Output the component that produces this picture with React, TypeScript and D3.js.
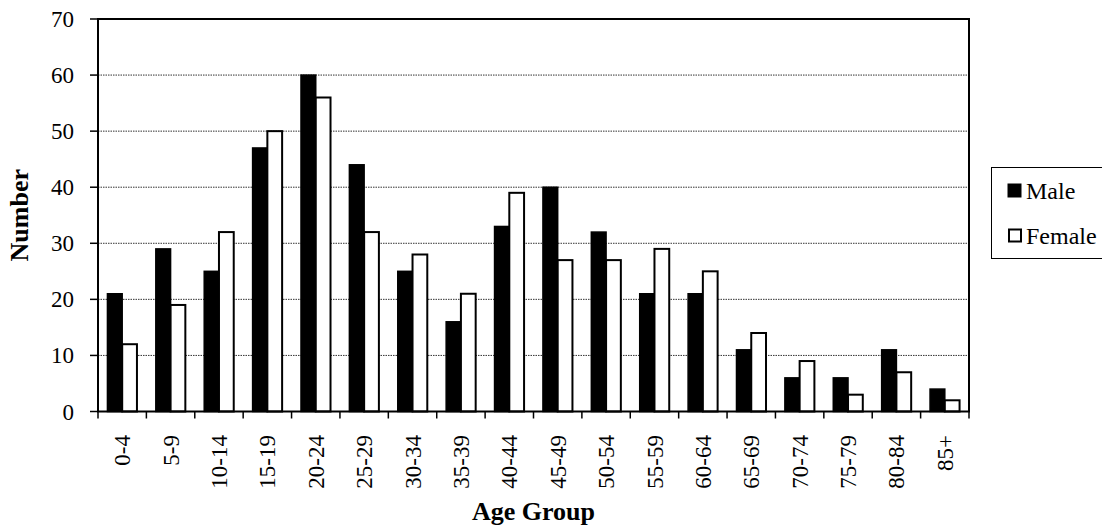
import React from "react";
import * as d3 from "d3";

const categories = ["0-4","5-9","10-14","15-19","20-24","25-29","30-34","35-39","40-44","45-49","50-54","55-59","60-64","65-69","70-74","75-79","80-84","85+"];
const maleValues = [21,29,25,47,60,44,25,16,33,40,32,21,21,11,6,6,11,4];
const femaleValues = [12,19,32,50,56,32,28,21,39,27,27,29,25,14,9,3,7,2];
const seriesNames = ["Male","Female"];
const yTicks = [0,10,20,30,40,50,60,70];

const W = 1102, H = 527;
const left = 98, right = 969, top = 19, bottom = 411.5;
const FONT = "Liberation Serif";
const ts = { fontFamily: FONT };

export default function App() {
  const x0 = d3.scaleBand<string>().domain(categories).range([left, right]).paddingInner(0.39).paddingOuter(0.195);
  const x1 = d3.scaleBand<string>().domain(seriesNames).range([0, x0.bandwidth()]);
  const y = d3.scaleLinear().domain([0, 70]).range([bottom, top]);
  const step = x0.step();
  const groupStarts = categories.map((_, i) => left + i * step);

  return (
    <svg width={W} height={H} style={{ position: "absolute", left: 0, top: 0, background: "#fff" }}>
      <rect x={0} y={0} width={W} height={H} fill="#fff" />
      {yTicks.filter(t => t > 0 && t < 70).map(t => (
        <line key={"g" + t} x1={left} x2={right} y1={y(t)} y2={y(t)} stroke="#333" strokeWidth={1} strokeDasharray="1.5 1" />
      ))}
      {categories.map((c, i) => (
        <g key={c}>
          <rect x={x0(c)! + x1("Male")!} y={y(maleValues[i])} width={x1.bandwidth()} height={y(0) - y(maleValues[i])} fill="#000" stroke="#000" strokeWidth={1.5} />
          <rect x={x0(c)! + x1("Female")!} y={y(femaleValues[i])} width={x1.bandwidth()} height={y(0) - y(femaleValues[i])} fill="#fff" stroke="#000" strokeWidth={2} />
        </g>
      ))}
      <rect x={left} y={top} width={right - left} height={bottom - top} fill="none" stroke="#000" strokeWidth={2} />
      {yTicks.map(t => (
        <g key={"y" + t}>
          <line x1={left - 8} x2={left} y1={y(t)} y2={y(t)} stroke="#000" strokeWidth={1.5} />
          <text x={74} y={y(t)} dy="0.35em" textAnchor="end" fontSize={23} fill="#000" style={ts}>{t}</text>
        </g>
      ))}
      {[...groupStarts, right].map((gx, i) => (
        <line key={"xt" + i} x1={gx} x2={gx} y1={bottom} y2={bottom + 7} stroke="#000" strokeWidth={1.5} />
      ))}
      {categories.map((c, i) => {
        const cx = groupStarts[i] + step / 2;
        return (
          <text key={"xl" + c} transform={`translate(${cx},435) rotate(-90)`} dy="0.35em" textAnchor="end" fontSize={23} fill="#000" style={ts}>{c}</text>
        );
      })}
      <text transform={`translate(28,${(top + bottom) / 2}) rotate(-90)`} textAnchor="middle" fontSize={26} fontWeight="bold" fill="#000" style={ts}>Number</text>
      <text x={(left + right) / 2} y={520} textAnchor="middle" fontSize={26} fontWeight="bold" fill="#000" style={ts}>Age Group</text>
      <rect x={991.5} y={167.5} width={125} height={91} fill="#fff" stroke="#000" strokeWidth={1} />
      <rect x={1008} y={184} width={13} height={13} fill="#000" stroke="#000" strokeWidth={1} />
      <text x={1026} y={199} fontSize={24} fill="#000" style={ts}>{seriesNames[0]}</text>
      <rect x={1009} y={229.5} width={12} height={12} fill="#fff" stroke="#000" strokeWidth={2} />
      <text x={1026} y={244} fontSize={24} fill="#000" style={ts}>{seriesNames[1]}</text>
    </svg>
  );
}
